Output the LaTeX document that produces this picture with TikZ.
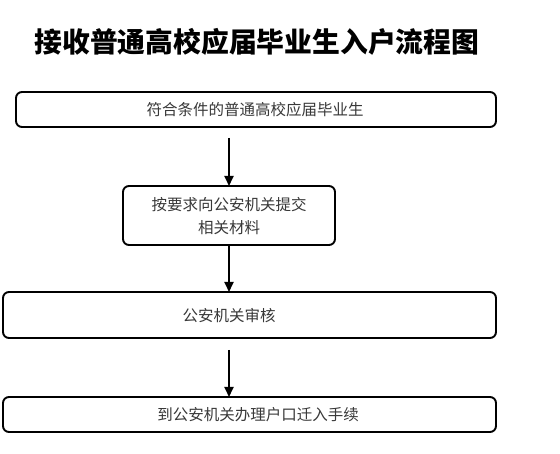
\documentclass[tikz,border=0pt]{standalone}
\usepackage{fontspec}
\newfontfamily\cjk{Noto Sans CJK SC}
\usetikzlibrary{arrows.meta}
\begin{document}
\begin{tikzpicture}[x=1pt,y=-1pt,
  box/.style={draw=black, line width=1.9pt, rounded corners=6pt, fill=white},
  lbl/.style={font=\cjk\fontsize{15.5}{23}\selectfont, text=black!78, align=center, inner sep=0pt},
  conn/.style={draw=black, line width=1.9pt, -{Triangle[length=10pt,width=9pt]}}]
\useasboundingbox (0,0) rectangle (560,454);
\node[font=\cjk\bfseries\fontsize{27.8}{30}\selectfont, inner sep=0pt] (title) at (257,42) {接收普通高校应届毕业生入户流程图};
\draw[box] (16,92) rectangle (496,127);
\node[lbl] (t1) at (255,110) {符合条件的普通高校应届毕业生};
\draw[box] (123,186) rectangle (335,245);
\coordinate (b2top) at (229,186);
\coordinate (b2bot) at (229,245);
\node[lbl] (t2) at (229,216) {按要求向公安机关提交\\相关材料};
\draw[box] (3,292) rectangle (496,338);
\coordinate (b3top) at (229,292);
\coordinate (b3bot) at (229,350);
\node[lbl] (t3) at (229,316) {公安机关审核};
\draw[box] (3,397) rectangle (496,432);
\coordinate (b4top) at (229,397);
\node[lbl] (t4) at (258,415) {到公安机关办理户口迁入手续};
\coordinate (a1s) at (229,138);
\draw[conn] (a1s) -- (b2top);
\draw[conn] (b2bot) -- (b3top);
\draw[conn] (b3bot) -- (b4top);
\end{tikzpicture}
\end{document}
